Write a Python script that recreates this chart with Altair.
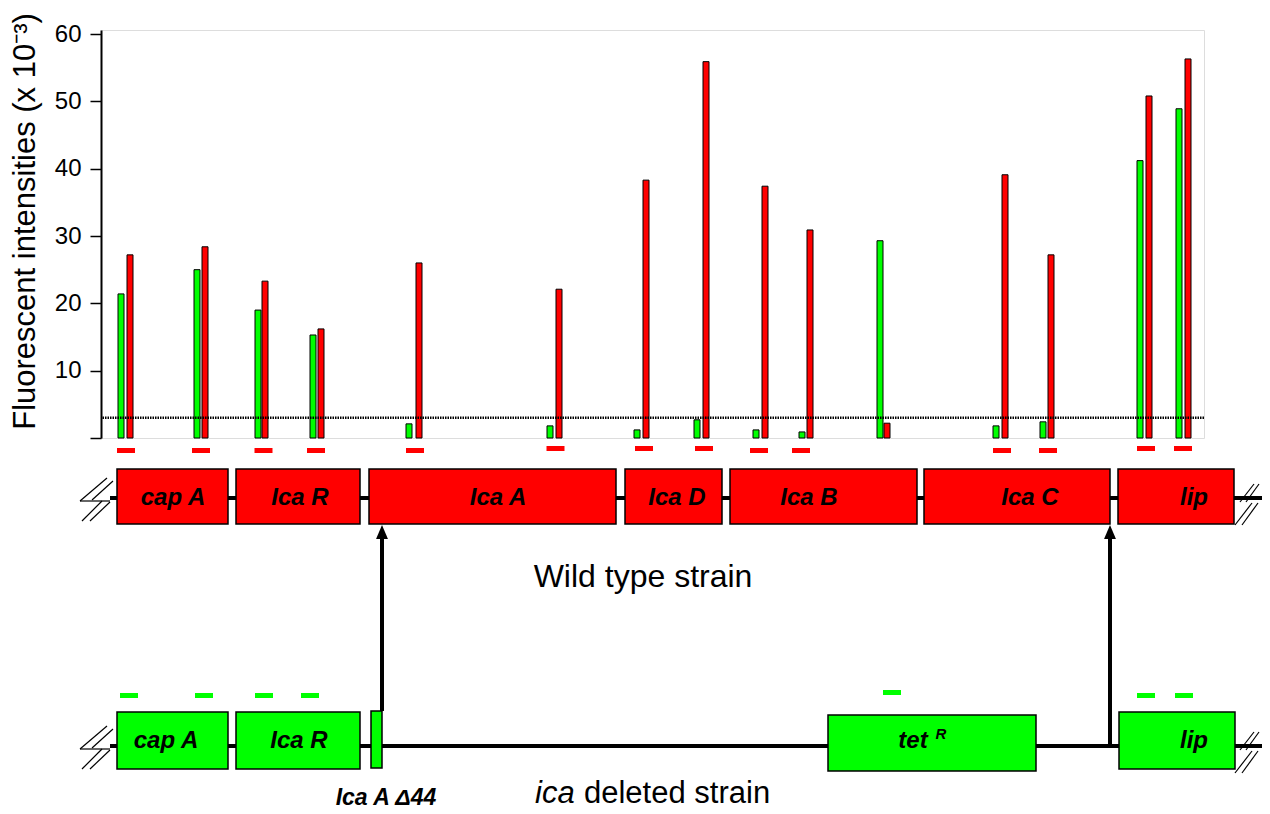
import altair as alt
import pandas as pd

# ---------------- data ----------------
# probe positions along the locus (same units as the gene map) and fluorescence (x 10^-3)
probe_green_pos = [121, 197, 258, 313, 409, 550, 637, 697, 756, 802, 880, 996, 1043, 1140, 1179]
probe_red_pos = [130, 205, 265, 321, 419, 559, 646, 706, 765, 810, 887, 1005, 1051, 1149, 1188]
green_values = [21.4, 25.0, 19.0, 15.3, 2.1, 1.8, 1.2, 2.7, 1.2, 0.9, 29.3, 1.8, 2.4, 41.2, 48.9]
red_values = [27.2, 28.4, 23.3, 16.2, 26.0, 22.1, 38.3, 55.9, 37.4, 30.9, 2.2, 39.1, 27.2, 50.8, 56.3]
threshold = [3.0]
y_ticks = [0, 10, 20, 30, 40, 50, 60]
y_title = "Fluorescent intensities (x 10\u207b\u00b3)"

# probe marks (wild type row, under the bars)
wt_probe_pos = [126, 201, 263.5, 316, 415, 555.5, 644, 704, 759, 801, 1002, 1048, 1146, 1183]
wt_probe_track = [450.5, 450.5, 450.5, 450.5, 450.5, 448.5, 448.5, 448.5, 450.5, 450.5, 450.5, 450.5, 448.5, 448.5]
# probe marks (ica deleted row)
del_probe_pos = [129, 204, 264, 310, 892, 1146, 1184]
del_probe_track = [695.5, 695.5, 695.5, 695.5, 692.5, 695.5, 695.5]

# wild type gene map
wt_genes = ["cap A", "Ica R", "Ica A", "Ica D", "Ica B", "Ica C", "lip"]
wt_start = [117, 236, 369, 625, 730, 924, 1118]
wt_end = [228, 360, 616, 722, 917, 1110, 1234]
wt_label_pos = [173, 300, 498, 677, 809, 1030, 1194]
wt_top, wt_bottom, wt_track = 469, 524, 498

# ica deleted gene map
del_genes = ["cap A", "Ica R", "", "tet", "lip"]
del_start = [117, 236, 371, 828, 1119]
del_end = [228, 360, 382, 1036, 1235]
del_top = [712, 712, 711, 715, 712]
del_bottom = [769, 769, 768, 771, 769]
del_label_pos = [166, 299, 376, 913, 1194]
del_track = 746

backbone_start = [110, 110]
backbone_end = [1270, 1270]
backbone_track = [wt_track, del_track]

# recombination arrows (from deleted strain up to wild type)
arrow_pos = [382, 1110]
arrow_from = [711, 746]
arrow_to = [538, 538]
arrow_tip = [532, 532]

# break symbols (vertex lists)
brk_seg = ["a", "a", "b", "b", "c", "c", "d", "d", "e", "e",
           "f", "f", "g", "g", "h", "h", "i", "i"]
brk_x = [107, 80, 113, 92, 80, 110, 102, 82, 110, 90,
         1240, 1254, 1246, 1259, 1235, 1252, 1242, 1258]
brk_y = [478, 501, 481, 500, 501, 501, 501, 521, 502, 521,
         502, 484, 502, 484, 525, 503, 525, 503]

texts_plain = ["Wild type strain", "deleted strain"]
texts_plain_x = [643, 584]
texts_plain_y = [577, 794]

# ---------------- scales ----------------
RED = "#ff0000"
GREEN = "#00ff00"
FONT = "Liberation Sans"

xs = alt.Scale(domain=[101, 1204], nice=False, zero=False, padding=0)
yf = alt.Scale(domain=[0, 60.6], nice=False, zero=False, padding=0)
yd = alt.Scale(domain=[30, 438], range=[0, 408], nice=False, zero=False, padding=0)

X = lambda f: alt.X(f, type="quantitative", scale=xs, axis=None)
YD = lambda f: alt.Y(f, type="quantitative", scale=yd, axis=None)

# ---------------- bars ----------------
bars_df = pd.DataFrame({
    "pos": probe_green_pos + probe_red_pos,
    "value": green_values + red_values,
    "strain": ["ica deleted"] * len(green_values) + ["wild type"] * len(red_values),
})
bars = alt.Chart(bars_df).mark_bar(orient="vertical", size=6, stroke="black", strokeWidth=1).encode(
    x=X("pos"),
    y=alt.Y("value:Q", scale=yf, axis=alt.Axis(
        values=y_ticks, labelExpr="datum.value == 0 ? '' : datum.label",
        grid=False, domain=True, domainColor="black", domainWidth=2,
        ticks=True, tickSize=11, tickWidth=1.5, tickColor="black",
        labelFont=FONT, labelFontSize=24, labelColor="black", labelPadding=9,
        title=y_title, titleFont=FONT, titleFontSize=31, titleFontWeight="normal",
        titleColor="black", titleAngle=270, titleX=-76, titleY=191,
        titleAlign="center", titleBaseline="middle")),
    color=alt.Color("strain:N", scale=alt.Scale(domain=["ica deleted", "wild type"], range=[GREEN, RED]), legend=None),
)

thr = alt.Chart(pd.DataFrame({"t": threshold})).mark_rule(
    color="black", strokeWidth=2.4, strokeDash=[1.5, 1]).encode(
    y=alt.Y("t:Q", scale=yf, axis=None))

# ---------------- gene map ----------------
backbone = alt.Chart(pd.DataFrame({"s": backbone_start, "e": backbone_end, "t": backbone_track})).mark_rule(
    color="black", strokeWidth=4).encode(x=X("s"), x2="e:Q", y=YD("t"))

wt_df = pd.DataFrame({"g": wt_genes, "s": wt_start, "e": wt_end, "lx": wt_label_pos,
                      "top": [wt_top] * len(wt_genes), "bot": [wt_bottom] * len(wt_genes),
                      "ly": [wt_track] * len(wt_genes)})
wt_boxes = alt.Chart(wt_df).mark_rect(fill=RED, stroke="black", strokeWidth=1.5).encode(
    x=X("s"), x2="e:Q", y=YD("top"), y2="bot:Q")
wt_labels = alt.Chart(wt_df).mark_text(font=FONT, fontSize=24, fontWeight="bold", fontStyle="italic",
                                       color="black", baseline="middle").encode(
    x=X("lx"), y=YD("ly"), text="g:N")

del_df = pd.DataFrame({"g": del_genes, "s": del_start, "e": del_end, "lx": del_label_pos,
                       "top": del_top, "bot": del_bottom,
                       "ly": [741] * len(del_genes)})
del_boxes = alt.Chart(del_df).mark_rect(fill=GREEN, stroke="black", strokeWidth=1.5).encode(
    x=X("s"), x2="e:Q", y=YD("top"), y2="bot:Q")
del_labels = alt.Chart(del_df).mark_text(font=FONT, fontSize=24, fontWeight="bold", fontStyle="italic",
                                         color="black", baseline="middle").encode(
    x=X("lx"), y=YD("ly"), text="g:N")
sup_r = alt.Chart(pd.DataFrame({"t": ["R"], "x": [941], "y": [734]})).mark_text(
    font=FONT, fontSize=15, fontWeight="bold", fontStyle="italic", color="black", baseline="middle").encode(
    x=X("x"), y=YD("y"), text="t:N")

wt_probes = alt.Chart(pd.DataFrame({"p": wt_probe_pos, "t": wt_probe_track})).transform_calculate(
    a="datum.p - 9", b="datum.p + 9").mark_rule(color=RED, strokeWidth=5, strokeCap="butt").encode(
    x=X("a"), x2="b:Q", y=YD("t"))
del_probes = alt.Chart(pd.DataFrame({"p": del_probe_pos, "t": del_probe_track})).transform_calculate(
    a="datum.p - 9", b="datum.p + 9").mark_rule(color=GREEN, strokeWidth=5, strokeCap="butt").encode(
    x=X("a"), x2="b:Q", y=YD("t"))

# break symbols: wild type row as listed, deleted row shifted down to its track
brk_df = pd.DataFrame({"seg": brk_seg, "x": brk_x, "y": brk_y, "o": list(range(len(brk_x)))})
brk_df2 = brk_df.assign(seg=brk_df["seg"] + "2", y=brk_df["y"] + (del_track - wt_track))
brk_all = pd.concat([brk_df, brk_df2], ignore_index=True)
breaks = alt.Chart(brk_all).mark_line(color="black", strokeWidth=1.2).encode(
    x=X("x"), y=YD("y"), detail="seg:N", order="o:Q")

arr_df = pd.DataFrame({"x": arrow_pos, "f": arrow_from, "t": arrow_to, "tip": arrow_tip})
arrow_lines = alt.Chart(arr_df).mark_rule(color="black", strokeWidth=4).encode(
    x=X("x"), y=YD("f"), y2="t:Q")
arrow_heads = alt.Chart(arr_df).mark_point(shape="M0,-1L0.85,1L-0.85,1Z", size=196, filled=True,
                                           color="black", opacity=1).encode(
    x=X("x"), y=YD("tip"))

plain = alt.Chart(pd.DataFrame({"t": texts_plain, "x": texts_plain_x, "y": texts_plain_y,
                                "al": ["center", "left"]}))
wild_txt = plain.transform_filter("datum.al == 'center'").mark_text(
    font=FONT, fontSize=32, color="black", align="center", baseline="middle").encode(
    x=X("x"), y=YD("y"), text="t:N")
del_txt = plain.transform_filter("datum.al == 'left'").mark_text(
    font=FONT, fontSize=31, color="black", align="left", baseline="middle").encode(
    x=X("x"), y=YD("y"), text="t:N")
ica_txt = alt.Chart(pd.DataFrame({"t": ["ica"], "x": [535], "y": [794]})).mark_text(
    font=FONT, fontSize=31, fontStyle="italic", color="black", align="left", baseline="middle").encode(
    x=X("x"), y=YD("y"), text="t:N")
delta_txt = alt.Chart(pd.DataFrame({"t": ["Ica A \u039444"], "x": [386], "y": [798]})).mark_text(
    font=FONT, fontSize=23, fontWeight="bold", fontStyle="italic", color="black", baseline="middle").encode(
    x=X("x"), y=YD("y"), text="t:N")

chart = alt.layer(
    backbone, bars, thr, wt_probes, del_probes,
    wt_boxes, wt_labels, del_boxes, del_labels, sup_r,
    breaks, arrow_lines, arrow_heads,
    wild_txt, del_txt, ica_txt, delta_txt,
).resolve_scale(y="independent").properties(
    width=1103, height=408,
    padding={"left": 93, "top": 22, "right": 58, "bottom": 372},
    autosize=alt.AutoSizeParams(type="none"),
).configure_view(stroke="black", strokeWidth=2).configure(background="white")

chart.save("out.html", embed_options={"renderer": "svg", "actions": False})
